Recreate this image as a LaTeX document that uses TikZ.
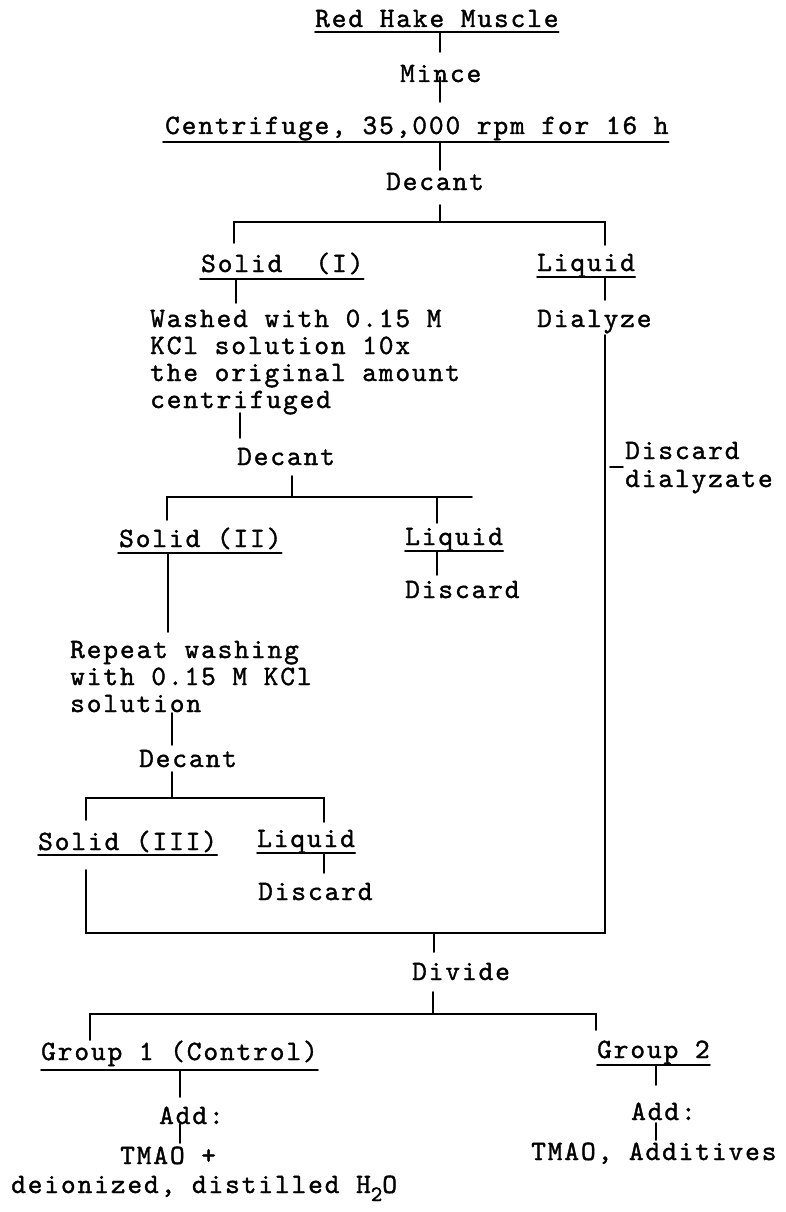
\documentclass[tikz,border=0pt]{standalone}
\usepackage{fontspec}
\newfontfamily\twfont[LetterSpace=6.8,FakeBold=1.3]{lmmono10-regular.otf}
\newcommand\tw{\twfont\fontsize{28}{28}\selectfont}
\newcommand\ulnode[4]{\draw[ln] ([shift={(#2,#4)}]#1.base west) -- ([shift={(#3,#4)}]#1.base east);}
\begin{document}
\begin{tikzpicture}[x=1pt,y=-1pt,
  t/.style={anchor=base west,inner sep=0pt,font=\tw},
  ln/.style={line width=1.9pt,line cap=round,line join=miter}]
\useasboundingbox (0,0) rectangle (786,1212);
% ---------- texts ----------
\node[t] (rh) at (315,27) {Red Hake Muscle};
\node[t] (mince) at (400,82) {Mince};
\node[t] (cent) at (165,134) {Centrifuge, 35,000 rpm for 16 h};
\node[t] (dec1) at (386,190) {Decant};
\node[t] (sol1) at (201,272) {Solid\ \ (I)};
\node[t] (liq1) at (537,271) {Liquid};
\node[t] (dial) at (537,327) {Dialyze};
\node[t] (wash1) at (150,327) {Washed with 0.15 M};
\node[t] (wash2) at (150,354) {KCl solution 10x};
\node[t] (wash3) at (150,381) {the original amount};
\node[t] (wash4) at (150,408) {centrifuged};
\node[t] (dec2) at (237,465) {Decant};
\node[t] (disc1) at (625,459) {Discard};
\node[t] (disc1b) at (625,487) {dialyzate};
\node[t] (sol2) at (119,547) {Solid (II)};
\node[t] (liq2) at (405,545) {Liquid};
\node[t] (disc2) at (405,598) {Discard};
\node[t] (rep1) at (70,658) {Repeat washing};
\node[t] (rep2) at (70,685) {with 0.15 M KCl};
\node[t] (rep3) at (70,712) {solution};
\node[t] (dec3) at (139,767) {Decant};
\node[t] (sol3) at (38,850) {Solid (III)};
\node[t] (liq3) at (257,847) {Liquid};
\node[t] (disc3) at (258,900) {Discard};
\node[t] (div) at (412,980) {Divide};
\node[t] (g1) at (41,1060) {Group 1 (Control)};
\node[t] (g2) at (597,1058) {Group 2};
\node[t] (add1) at (159,1124) {Add:};
\node[t] (tm1) at (120,1164) {TMAO +};
\node[t] (tm2) at (11,1193) {deionized, distilled H\raisebox{-8pt}{\fontsize{22}{22}\selectfont 2}O};
\node[t] (add2) at (631,1120) {Add:};
\node[t] (tm3) at (531,1160) {TMAO, Additives};
% ---------- underlines ----------
\ulnode{rh}{0}{0}{5}
\ulnode{cent}{-2}{0}{8}
\ulnode{sol1}{-1}{0}{7}
\ulnode{liq1}{0}{0}{6}
\ulnode{sol2}{-1}{0}{6}
\ulnode{liq2}{0}{0}{6}
\ulnode{sol3}{0}{0}{5}
\ulnode{liq3}{0}{0}{6}
\ulnode{g1}{0}{0}{10}
\ulnode{g2}{0}{0}{7}
% ---------- junctions ----------
\coordinate (b1) at (440,222);
\coordinate (b1l) at (234,222);
\coordinate (b1r) at (605,222);
\coordinate (b2) at (292,497);
\coordinate (b2l) at (167,497);
\coordinate (b2r) at (437,497);
\coordinate (b3) at (172,798);
\coordinate (b3l) at (86,798);
\coordinate (b3r) at (324,798);
\coordinate (bj) at (605,933);
\coordinate (bl) at (86,933);
\coordinate (bm) at (434,933);
\coordinate (b4) at (433,1014);
\coordinate (b4l) at (90,1014);
\coordinate (b4r) at (596,1014);
% ---------- connectors ----------
\draw[ln] (rh.base -| b1) ++(0,6) -- ++(0,19);
\draw[ln] (mince.base -| b1) ++(0,-5) -- ++(0,25);
\draw[ln] (cent.base -| b1) ++(0,8) -- ++(0,28);
\draw[ln] (dec1.base -| b1) ++(0,15) -- (b1);
\draw[ln] (b1l) ++(0,21) -- (b1l) -- (b1r) -- ++(0,23);
\draw[ln] (sol1.base -| 236,0) ++(0,7) -- ++(0,24);
\draw[ln] (liq1.base -| b1r) ++(0,6) -- ++(0,23);
\draw[ln] (dial.base -| b1r) ++(0,8) -- (bj) -- (bl) -- ++(0,-63);
\draw[ln] ([shift={(-15,8)}]disc1.base west) -- ([shift={(-2,8)}]disc1.base west);
\draw[ln] (wash4.base -| 240,0) ++(0,5) -- ++(0,25);
\draw[ln] (dec2.base -| b2) ++(0,11) -- (b2);
\draw[ln] (b2l) ++(0,23) -- (b2l) -- (472,497);
\draw[ln] (b2r) -- ++(0,26);
\draw[ln] (liq2.base -| b2r) ++(0,6) -- ++(0,24);
\draw[ln] (sol2.base -| 168,0) ++(0,6) -- ++(0,79);
\draw[ln] (rep3.base -| b3) ++(0,1) -- ++(0,32);
\draw[ln] (dec3.base -| b3) ++(0,5) -- (b3);
\draw[ln] (b3l) ++(0,22) -- (b3l) -- (b3r) -- ++(0,24);
\draw[ln] (liq3.base -| b3r) ++(0,6) -- ++(0,20);
\draw[ln] (bm) -- ++(0,19);
\draw[ln] (div.base -| b4) ++(0,12) -- (b4);
\draw[ln] (b4l) ++(0,26) -- (b4l) -- (b4r) -- ++(0,16);
\draw[ln] (g1.base -| 180,0) ++(0,11) -- ++(0,26);
\draw[ln] (add1.base -| 180,0) ++(0,0) -- ++(0,19);
\draw[ln] (g2.base -| 656,0) ++(0,7) -- ++(0,20);
\draw[ln] (add2.base -| 656,0) ++(0,3) -- ++(0,17);
\end{tikzpicture}
\end{document}
